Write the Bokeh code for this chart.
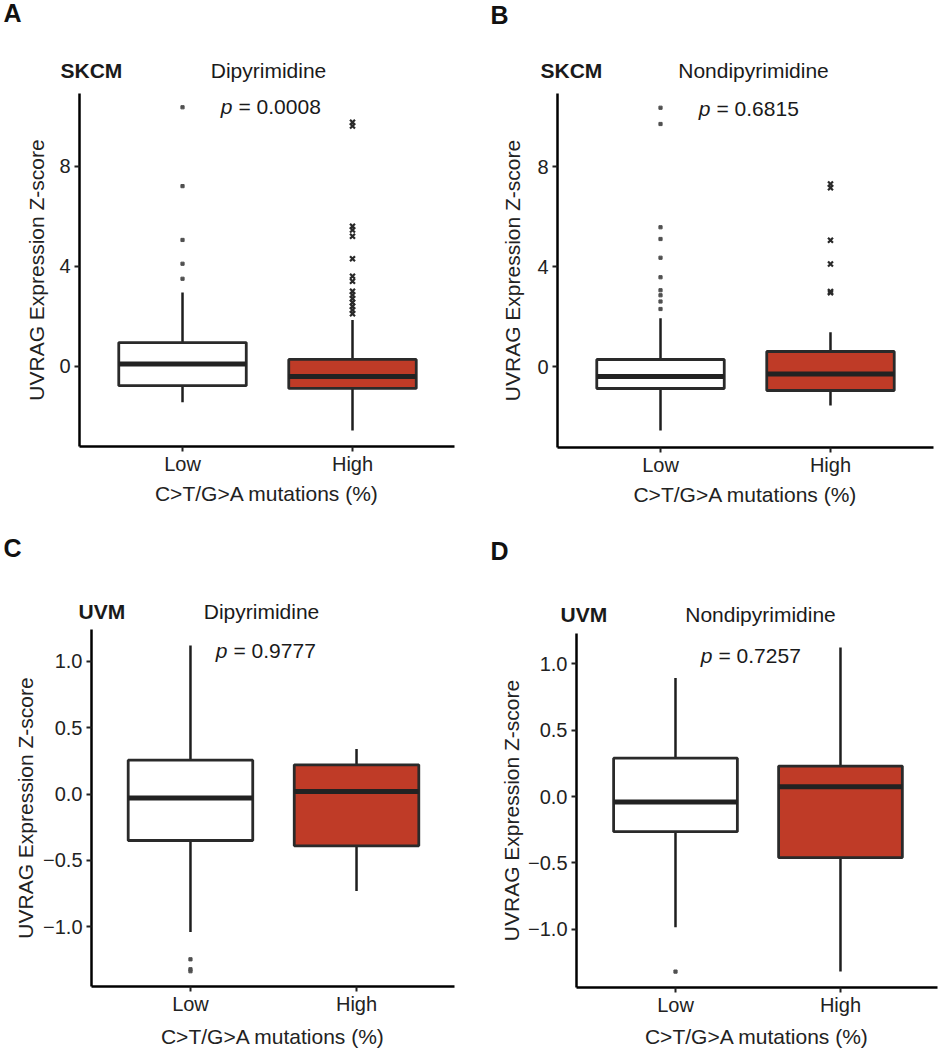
from bokeh.plotting import figure
from bokeh.models import Range1d, FixedTicker, Label, ColumnDataSource
from bokeh.layouts import row, column
from bokeh.core.properties import value
from bokeh.embed import file_html
from bokeh.resources import INLINE

FONT = "Liberation Sans"

# ---------------- data ----------------
groups = ["Low", "High"]
group_pos = [1, 2]
fills = ["#FFFFFF", "#BF3B27"]

panel_letters = ["A", "B", "C", "D"]
cohorts = ["SKCM", "SKCM", "UVM", "UVM"]
contexts = ["Dipyrimidine", "Nondipyrimidine", "Dipyrimidine", "Nondipyrimidine"]
p_values = ["0.0008", "0.6815", "0.9777", "0.7257"]

# [lower whisker, Q1, median, Q3, upper whisker]
A_low = [-1.43, -0.77, 0.10, 0.95, 2.95]
A_high = [-2.56, -0.88, -0.40, 0.28, 1.85]
A_low_out = [3.5, 4.1, 5.05, 7.2, 10.35]
A_high_out = [2.1, 2.25, 2.4, 2.55, 2.7, 2.85, 3.0, 3.4, 3.6, 4.3, 5.2, 5.45, 5.6, 9.6, 9.75]

B_low = [-2.56, -0.88, -0.40, 0.28, 1.93]
B_high = [-1.56, -0.96, -0.30, 0.60, 1.37]
B_low_out = [2.3, 2.6, 2.85, 3.05, 3.57, 4.35, 5.1, 5.57, 9.7, 10.35]
B_high_out = [2.95, 3.0, 4.1, 5.05, 7.15, 7.3]

C_low = [-1.04, -0.35, -0.03, 0.255, 1.12]
C_high = [-0.73, -0.39, 0.02, 0.22, 0.34]
C_low_out = [-1.245, -1.32, -1.335]
C_high_out = []

D_low = [-0.985, -0.265, -0.04, 0.29, 0.895]
D_high = [-1.32, -0.46, 0.075, 0.23, 1.125]
D_low_out = [-1.32]
D_high_out = []

skcm_ticks = [0, 4, 8]
skcm_tick_labels = ["0", "4", "8"]
uvm_ticks = [-1.0, -0.5, 0.0, 0.5, 1.0]
uvm_tick_labels = ["\u22121.0", "\u22120.5", "0.0", "0.5", "1.0"]

y_title = "UVRAG Expression Z-score"
x_title = "C>T/G>A mutations (%)"

# ---------------- layout (panel-local pixel geometry) ----------------
geoms = [
    dict(W=470, H=530, left=79, right=16, top=93, bottom=84, xr=(0.394, 2.600), yr=(-3.20, 10.90),
         ylab_standoff=8, xlab_standoff=4, letter=(3, 12), cohort=(60, 70), context=(268, 70), pv=(232, 106)),
    dict(W=471, H=530, left=87, right=8, top=93, bottom=83, xr=(0.394, 2.606), yr=(-3.24, 10.92),
         ylab_standoff=10, xlab_standoff=4, letter=(20, 14), cohort=(70, 70), context=(283, 70), pv=(240, 108)),
    dict(W=470, H=520, left=91, right=16, top=99, bottom=63, xr=(0.404, 2.590), yr=(-1.45, 1.24),
         ylab_standoff=3, xlab_standoff=7, letter=(3, 17), cohort=(78, 81), context=(261, 81), pv=(227, 120)),
    dict(W=471, H=520, left=106, right=4, top=103, bottom=61, xr=(0.400, 2.588), yr=(-1.44, 1.23),
         ylab_standoff=2, xlab_standoff=6, letter=(20, 20), cohort=(90, 84), context=(290, 84), pv=(242, 125)),
]

BOX_W = 0.75
PLOT_TOP = 2


def make_header(i):
    g = geoms[i]
    hh = g["top"] - PLOT_TOP
    h = figure(width=g["W"], height=hh, output_backend="svg", toolbar_location=None,
               x_range=Range1d(0, g["W"]), y_range=Range1d(hh, 0),
               x_axis_type=None, y_axis_type=None, min_border=0,
               min_border_left=0, min_border_right=0, min_border_top=0, min_border_bottom=0)
    h.frame_align = False
    h.outline_line_color = None
    h.xgrid.visible = False
    h.ygrid.visible = False
    h.background_fill_color = "white"
    h.border_fill_color = "white"
    lx, ly = g["letter"]
    h.text(x=[lx], y=[ly], text=[panel_letters[i]], text_font=value(FONT),
           text_font_size=value("25px"), text_font_style="bold", text_color="#111111",
           text_align="left", text_baseline="middle")
    cx, cy = g["cohort"]
    h.text(x=[cx], y=[cy], text=[cohorts[i]], text_font=value(FONT),
           text_font_size=value("21px"), text_font_style="bold", text_color="#1a1a1a",
           text_align="left", text_baseline="middle")
    tx, ty = g["context"]
    h.text(x=[tx], y=[ty], text=[contexts[i]], text_font=value(FONT),
           text_font_size=value("21px"), text_color="#1a1a1a",
           text_align="center", text_baseline="middle")
    return h


def make_panel(i, low, high, low_out, high_out, ticks, tick_labels):
    g = geoms[i]
    hh = g["top"] - PLOT_TOP
    p = figure(width=g["W"], height=g["H"] - hh, output_backend="svg", toolbar_location=None,
               x_range=Range1d(*g["xr"]), y_range=Range1d(*g["yr"]),
               min_border_left=g["left"], min_border_right=g["right"],
               min_border_top=PLOT_TOP, min_border_bottom=g["bottom"])
    p.frame_align = False
    p.outline_line_color = None
    p.xgrid.visible = False
    p.ygrid.visible = False
    p.background_fill_color = "white"
    p.border_fill_color = "white"

    fw = g["W"] - g["left"] - g["right"]
    fh = g["H"] - g["top"] - g["bottom"]

    def dx(lx):
        return g["xr"][0] + (lx - g["left"]) / fw * (g["xr"][1] - g["xr"][0])

    def dy(ly):
        return g["yr"][1] - (ly - g["top"]) / fh * (g["yr"][1] - g["yr"][0])

    stats = [low, high]
    src = ColumnDataSource(dict(
        x=group_pos,
        lower=[s[0] for s in stats], q1=[s[1] for s in stats], med=[s[2] for s in stats],
        q3=[s[3] for s in stats], upper=[s[4] for s in stats], fill=fills,
    ))
    p.segment(x0="x", y0="q3", x1="x", y1="upper", source=src, line_color="#1e1e1e", line_width=2.5)
    p.segment(x0="x", y0="lower", x1="x", y1="q1", source=src, line_color="#1e1e1e", line_width=2.5)
    p.vbar(x="x", width=BOX_W, bottom="q1", top="q3", source=src, fill_color="fill",
           line_color="#2a2a2a", line_width=2.8)
    p.rect(x="x", y="med", width=BOX_W, height=5, height_units="screen", source=src,
           fill_color="#222222", line_color=None)

    if low_out:
        p.scatter(x=[group_pos[0]] * len(low_out), y=low_out, marker="square", size=3.2,
                  fill_color="#505050", line_color="#505050")
    if high_out:
        p.scatter(x=[group_pos[1]] * len(high_out), y=high_out, marker="x", size=7,
                  line_color="#2a2a2a", line_width=2.2)

    # axes
    for ax in (p.xaxis[0], p.yaxis[0]):
        ax.axis_line_width = 2.5
        ax.axis_line_color = "black"
        ax.major_tick_line_width = 2
        ax.major_tick_line_color = "#222222"
        ax.major_tick_out = 5
        ax.major_tick_in = 0
        ax.minor_tick_line_color = None
        ax.major_label_text_font = FONT
        ax.major_label_text_font_size = "20px"
        ax.major_label_text_color = "#222222"
        ax.axis_label_text_font = FONT
        ax.axis_label_text_font_size = "21px"
        ax.axis_label_text_font_style = "normal"
        ax.axis_label_text_color = "#222222"

    p.xaxis.ticker = FixedTicker(ticks=group_pos)
    p.xaxis.major_label_overrides = {pos: name for pos, name in zip(group_pos, groups)}
    p.xaxis.axis_label = x_title
    p.xaxis.major_label_standoff = 1
    p.xaxis.axis_label_standoff = g["xlab_standoff"]

    p.yaxis.ticker = FixedTicker(ticks=ticks)
    p.yaxis.major_label_overrides = {t: l for t, l in zip(ticks, tick_labels)}
    p.yaxis.axis_label = y_title
    p.yaxis.major_label_standoff = 4
    p.yaxis.axis_label_standoff = g["ylab_standoff"]

    # p-value inside the panel
    px_, py_ = g["pv"]
    p.add_layout(Label(x=dx(px_), y=dy(py_), text="p", text_font=FONT,
                       text_font_size="21px", text_font_style="italic", text_color="#1a1a1a",
                       text_align="right", text_baseline="middle"))
    p.add_layout(Label(x=dx(px_ + 6), y=dy(py_), text="= " + p_values[i], text_font=FONT,
                       text_font_size="21px", text_color="#1a1a1a",
                       text_align="left", text_baseline="middle"))
    return column(make_header(i), p)


pA = make_panel(0, A_low, A_high, A_low_out, A_high_out, skcm_ticks, skcm_tick_labels)
pB = make_panel(1, B_low, B_high, B_low_out, B_high_out, skcm_ticks, skcm_tick_labels)
pC = make_panel(2, C_low, C_high, C_low_out, C_high_out, uvm_ticks, uvm_tick_labels)
pD = make_panel(3, D_low, D_high, D_low_out, D_high_out, uvm_ticks, uvm_tick_labels)

layout = column(row(pA, pB), row(pC, pD))

open("out.html", "w").write(file_html(layout, INLINE))
